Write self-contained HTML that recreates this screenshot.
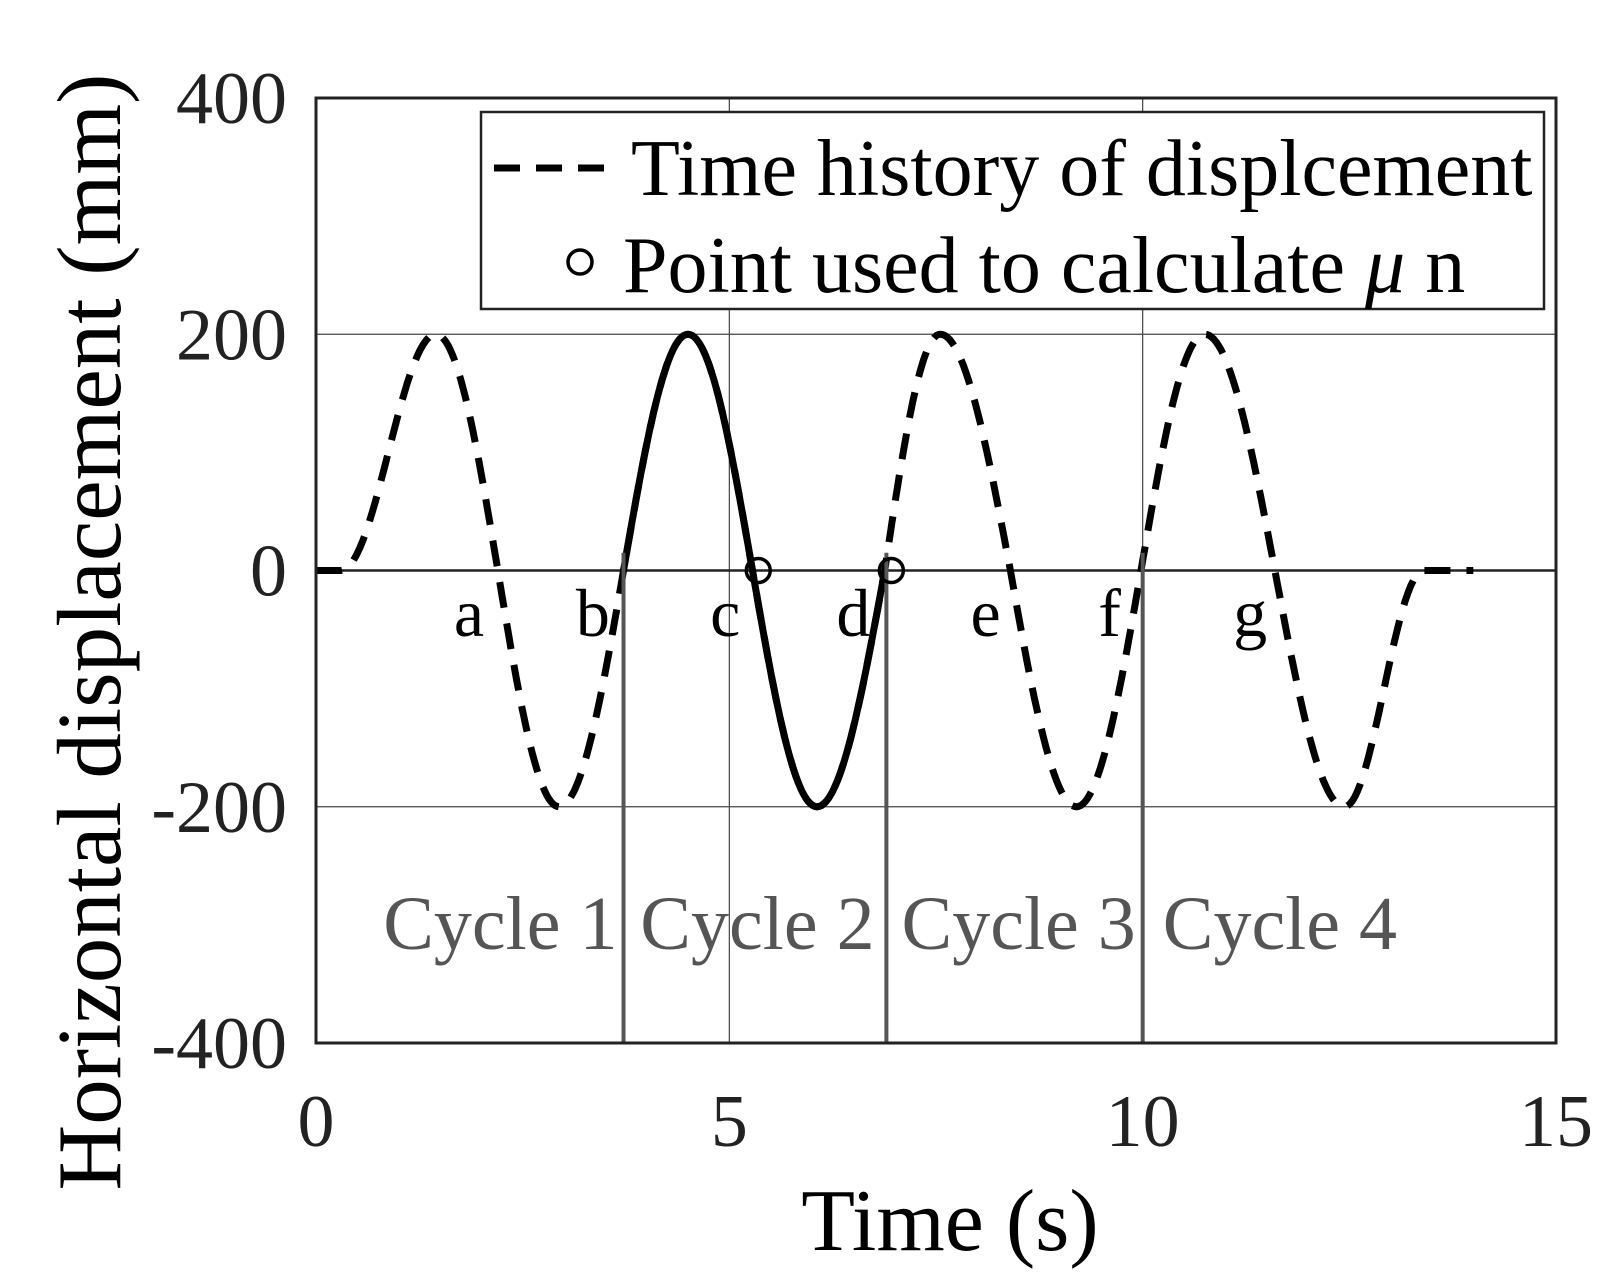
<!DOCTYPE html>
<html><head><meta charset="utf-8"><style>
html,body{margin:0;padding:0;background:#fff}
svg{display:block}
text{font-family:"Liberation Serif",serif}
</style></head><body>
<svg id="chart" width="1620" height="1288" viewBox="0 0 1620 1288"></svg>
<script>
// data
const keyTimes = [0, 0.3, 1.45, 2.2, 2.94, 3.72, 4.5, 5.28, 6.06, 6.88, 7.55, 8.4, 9.2, 9.98, 10.75, 11.6, 12.44, 13.4, 14.0];
const keyValues = [0, 0, 200, 0, -200, 0, 200, 0, -200, 0, 200, 0, -200, 0, 200, 0, -200, 0, 0];
const solidRange = [3.72, 6.9];
const markerTimes = [5.35, 6.96];
const markerValues = [0, 0];
const letterLabels = ['a','b','c','d','e','f','g'];
const letterTimes = [1.85, 3.35, 4.95, 6.5, 8.1, 9.6, 11.3];
const letterValue = -35;
const cycleBounds = [3.72, 6.9, 10.0];
const cycleLabels = ['Cycle 1','Cycle 2','Cycle 3','Cycle 4'];
const cycleCenters = [2.23, 5.34, 8.5, 11.66];
const cycleValue = -300;
const xTicks = [0, 5, 10, 15];
const yTicks = [-400, -200, 0, 200, 400];

const L=316,R=1556,T=98,B=1043;
const X=t=>L+(t-0)/15*(R-L);
const Y=v=>T+(400-v)/800*(B-T);
const svg=document.getElementById('chart');
const NS='http://www.w3.org/2000/svg';
function mk(tag,attrs,parent){const e=document.createElementNS(NS,tag);for(const k in attrs)e.setAttribute(k,attrs[k]);(parent||svg).appendChild(e);return e;}

// grid
xTicks.slice(1,-1).forEach(t=>{
  const g=mk('line',{x1:X(t),x2:X(t),y1:T,y2:B,stroke:'#444','stroke-width':1.2});
  
  
});
yTicks.slice(1,-1).forEach(v=>{
  const g=mk('line',{x1:L,x2:R,y1:Y(v),y2:Y(v),stroke:v===0?'#222':'#444','stroke-width':v===0?2.5:1.2});
  
  
});

// curve sampling: quarter-sine shapes between zero crossings and extrema
function sample(t0,t1){
  const pts=[];
  for(let i=0;i<keyTimes.length-1;i++){
    const a=keyTimes[i],b=keyTimes[i+1],va=keyValues[i],vb=keyValues[i+1];
    for(let k=0;k<=30;k++){
      const t=a+(b-a)*k/30;
      if(t<t0||t>t1)continue;
      const f=k/30;
      let v;
      if(va===0&&vb===0) v=0;
      else if(va===0) v=(i===1)?vb*(1-Math.cos(Math.PI*f))/2:vb*Math.sin(Math.PI/2*f);
      else if(vb===0) v=(i===keyTimes.length-3)?va*(1+Math.cos(Math.PI*f))/2:va*Math.cos(Math.PI/2*f);
      else v=va+(vb-va)*(1-Math.cos(Math.PI*f))/2;
      pts.push([X(t),Y(v)]);
    }
  }
  return pts.map((p,i)=>(i?'L':'M')+p[0].toFixed(1)+' '+p[1].toFixed(1)).join(' ');
}
const dashed=mk('path',{d:sample(0,14),fill:'none',stroke:'#000','stroke-width':7,'stroke-dasharray':'26 16'});


const solid=mk('path',{d:sample(solidRange[0],solidRange[1]),fill:'none',stroke:'#000','stroke-width':7});



// cycle boundaries
cycleBounds.forEach(t=>{
  const l=mk('line',{x1:X(t),x2:X(t),y1:Y(15),y2:B,stroke:'#555','stroke-width':4});
  
  
});

// markers
markerTimes.forEach((t,i)=>{
  const c=mk('circle',{cx:X(t),cy:Y(markerValues[i]),r:12,fill:'none',stroke:'#000','stroke-width':3.5});
  
  
});

// letters
letterLabels.forEach((s,i)=>{
  const e=mk('text',{x:X(letterTimes[i]),y:Y(letterValue)+24,'font-size':68,'text-anchor':'middle',fill:'#000'});
  e.textContent=s;
  
  
});
// cycle labels
cycleLabels.forEach((s,i)=>{
  const e=mk('text',{x:X(cycleCenters[i]),y:Y(cycleValue)+24,'font-size':76,'text-anchor':'middle',fill:'#555'});
  e.textContent=s;
  
  
});

// axes box
const box=mk('rect',{x:L,y:T,width:R-L,height:B-T,fill:'none',stroke:'#222','stroke-width':3});



// ticks
xTicks.forEach(t=>{
  const e=mk('text',{x:X(t),y:1146,'font-size':74,'text-anchor':'middle',fill:'#222'});
  e.textContent=t;
  
  
});
yTicks.forEach(v=>{
  const e=mk('text',{x:287,y:Y(v)+25,'font-size':74,'text-anchor':'end',fill:'#222'});
  e.textContent=v;
  
  
});
</script>
<svg style="position:absolute;left:0;top:0" width="1620" height="1288">
  <text x="950" y="1250" font-size="88" text-anchor="middle" fill="#000" style="font-family:'Liberation Serif',serif">Time (s)</text>
  <text transform="translate(120,632) rotate(-90)" font-size="91" text-anchor="middle" fill="#000" style="font-family:'Liberation Serif',serif">Horizontal displacement  (mm)</text>
  <g>
    <rect x="481" y="112" width="1063" height="197" fill="#fff" stroke="#222" stroke-width="2.5"/>
    <line x1="494" x2="620" y1="168" y2="168" stroke="#000" stroke-width="7" stroke-dasharray="26 16"/>
    <text x="631" y="195" font-size="80" fill="#000" style="font-family:'Liberation Serif',serif">Time history of displcement</text>
    <circle cx="580" cy="262" r="12" fill="none" stroke="#000" stroke-width="3.5"/>
    <text x="623" y="292" font-size="80" fill="#000" style="font-family:'Liberation Serif',serif">Point used to calculate <tspan font-style="italic">μ</tspan> n</text>
  </g>
</svg>
</body></html>
